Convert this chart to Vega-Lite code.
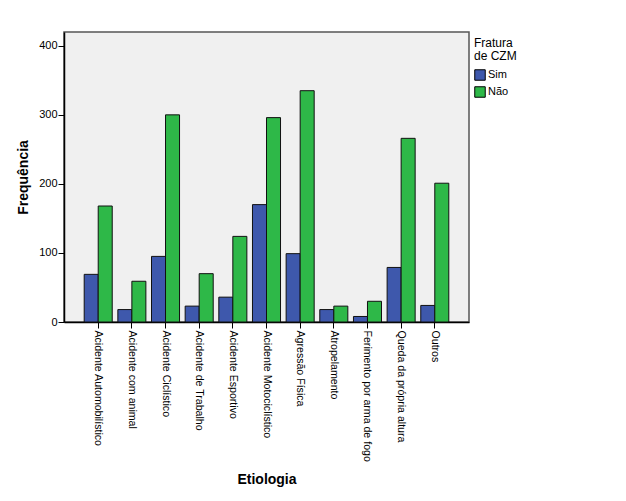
{
  "$schema": "https://vega.github.io/schema/vega-lite/v6.json",
  "autosize": {"type": "none"},
  "padding": {"left": 64, "top": 32, "right": 157, "bottom": 180},
  "width": 405,
  "height": 290,
  "background": "white",
  "config": {
    "font": "Liberation Sans",
    "view": {"fill": "#F0F0F0", "stroke": "#555555", "strokeWidth": 1.5}
  },
  "data": {
    "values": [
      {"etiologia": "Acidente Automobilístico", "fratura": "Sim", "freq": 69},
      {"etiologia": "Acidente Automobilístico", "fratura": "Não", "freq": 168},
      {"etiologia": "Acidente com animal", "fratura": "Sim", "freq": 18},
      {"etiologia": "Acidente com animal", "fratura": "Não", "freq": 59},
      {"etiologia": "Acidente Ciclístico", "fratura": "Sim", "freq": 95},
      {"etiologia": "Acidente Ciclístico", "fratura": "Não", "freq": 300},
      {"etiologia": "Acidente de Trabalho", "fratura": "Sim", "freq": 23},
      {"etiologia": "Acidente de Trabalho", "fratura": "Não", "freq": 70},
      {"etiologia": "Acidente Esportivo", "fratura": "Sim", "freq": 36},
      {"etiologia": "Acidente Esportivo", "fratura": "Não", "freq": 124},
      {"etiologia": "Acidente Motociclístico", "fratura": "Sim", "freq": 170},
      {"etiologia": "Acidente Motociclístico", "fratura": "Não", "freq": 296},
      {"etiologia": "Agressão Física", "fratura": "Sim", "freq": 99},
      {"etiologia": "Agressão Física", "fratura": "Não", "freq": 335},
      {"etiologia": "Atropelamento", "fratura": "Sim", "freq": 18},
      {"etiologia": "Atropelamento", "fratura": "Não", "freq": 23},
      {"etiologia": "Ferimento por arma de fogo", "fratura": "Sim", "freq": 8},
      {"etiologia": "Ferimento por arma de fogo", "fratura": "Não", "freq": 30},
      {"etiologia": "Queda da própria altura", "fratura": "Sim", "freq": 79},
      {"etiologia": "Queda da própria altura", "fratura": "Não", "freq": 266},
      {"etiologia": "Outros", "fratura": "Sim", "freq": 24},
      {"etiologia": "Outros", "fratura": "Não", "freq": 201}
    ]
  },
  "mark": {"type": "bar", "stroke": "#111111", "strokeWidth": 1},
  "encoding": {
    "x": {
      "field": "etiologia",
      "type": "nominal",
      "sort": null,
      "scale": {"paddingInner": 0.167, "paddingOuter": 0.6},
      "axis": {
        "title": "Etiologia",
        "titleFont": "Liberation Sans",
        "titleFontSize": 14,
        "titleFontWeight": "bold",
        "titleColor": "black",
        "titleY": 157,
        "titleBaseline": "middle",
        "labelAngle": 90,
        "labelFontSize": 10.6,
        "labelColor": "black",
        "labelPadding": 2,
        "labelLimit": 0,
        "tickColor": "black",
        "tickSize": 6,
        "domainColor": "black",
        "domainWidth": 1.5
      }
    },
    "xOffset": {"field": "fratura", "type": "nominal", "sort": ["Sim", "Não"], "scale": {"paddingInner": 0, "paddingOuter": 0}},
    "y": {
      "field": "freq",
      "type": "quantitative",
      "scale": {"domain": [0, 420], "nice": false},
      "axis": {
        "title": "Frequência",
        "values": [0, 100, 200, 300, 400],
        "grid": false,
        "titleFontSize": 14,
        "titleFontWeight": "bold",
        "titleColor": "black",
        "titlePadding": 8,
        "labelFontSize": 11,
        "labelColor": "black",
        "tickColor": "black",
        "tickSize": 6,
        "labelPadding": 1,
        "domainColor": "black",
        "domainWidth": 1.5
      }
    },
    "color": {
      "field": "fratura",
      "type": "nominal",
      "sort": ["Sim", "Não"],
      "scale": {"domain": ["Sim", "Não"], "range": ["#3E58AC", "#2EB848"]},
      "legend": {
        "title": ["Fratura", "de CZM"],
        "orient": "none",
        "legendX": 410,
        "legendY": 6,
        "titleFontSize": 12,
        "titleFontWeight": "normal",
        "titleColor": "black",
        "titleLineHeight": 13,
        "titlePadding": 6,
        "labelFontSize": 11,
        "labelColor": "black",
        "labelOffset": 2,
        "symbolType": "square",
        "symbolSize": 110,
        "symbolStrokeColor": "black",
        "symbolStrokeWidth": 1,
        "rowPadding": 1
      }
    }
  }
}
